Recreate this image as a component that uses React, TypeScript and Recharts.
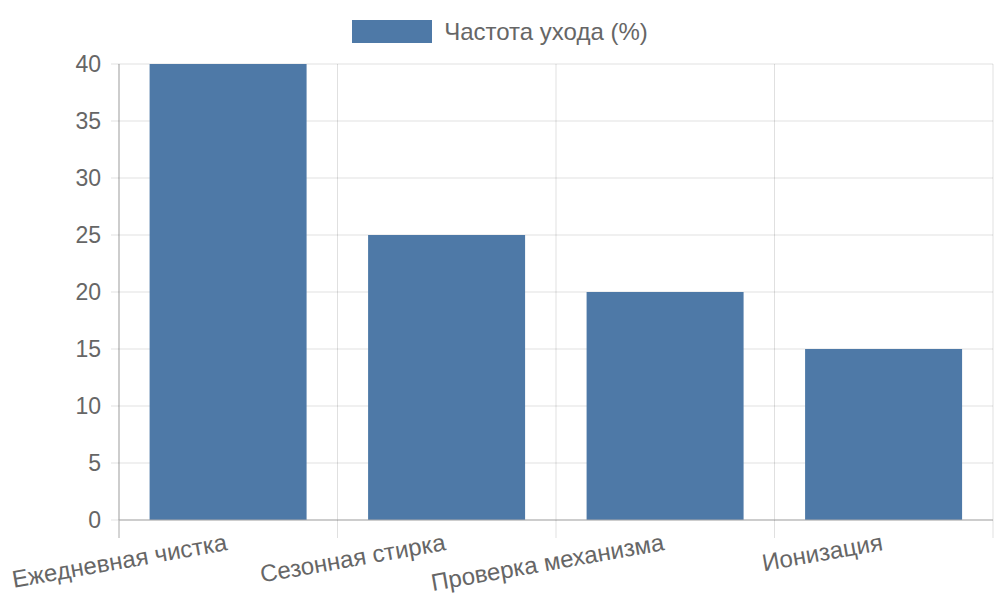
import { BarChart, Bar, XAxis, YAxis, CartesianGrid } from "recharts"

const categories = ["Ежедневная чистка", "Сезонная стирка", "Проверка механизма", "Ионизация"]
const frequency = [40, 25, 20, 15]
const yTicks = [0, 5, 10, 15, 20, 25, 30, 35, 40]
const seriesName = "Частота ухода (%)"

const data = categories.map((name, i) => ({ name, value: frequency[i] }))

const FONT = '"Liberation Sans", Arial, sans-serif'
const TEXT = "#666666"
const BLUE = "#4e79a7"
const GRID = "rgba(0,0,0,0.12)"
const AXIS = "#aaaaaa"

// label rotated -10deg, right end at the category centre; light tick marks on the band edges
function RotatedTick({ x, y, payload, index }: any) {
  const half = payload.offset || 0
  const last = index === categories.length - 1
  return (
    <g>
      <line x1={x - half} x2={x - half} y1={y - 30} y2={y - 12} stroke={index === 0 ? AXIS : GRID} />
      {last && <line x1={x + half} x2={x + half} y1={y - 30} y2={y - 12} stroke={GRID} />}
      <g transform={`translate(${x},${y})`}>
        <text x={0} y={0} transform="rotate(-10)" textAnchor="end" fill={TEXT} fontSize={24} fontFamily={FONT}>
          {payload.value}
        </text>
      </g>
    </g>
  )
}

export default function App() {
  return (
    <div style={{ position: "absolute", left: 0, top: 0, width: 1000, height: 600, background: "#fff", fontFamily: FONT }}>
      <div
        style={{
          position: "absolute",
          top: 20,
          left: 0,
          width: 1000,
          display: "flex",
          justifyContent: "center",
          alignItems: "center",
        }}
      >
        <div style={{ width: 80, height: 23, background: BLUE, marginRight: 12 }} />
        <span style={{ fontSize: 24, color: TEXT, lineHeight: "23px" }}>{seriesName}</span>
      </div>
      <BarChart
        width={1000}
        height={600}
        data={data}
        margin={{ top: 64, right: 7, bottom: 0, left: 0 }}
        barCategoryGap="14%"
      >
        <CartesianGrid
          stroke={GRID}
          verticalCoordinatesGenerator={({ offset }: any) =>
            categories.map((_, i) => offset.left + (i * offset.width) / categories.length).concat(offset.left + offset.width)
          }
        />
        <XAxis
          dataKey="name"
          height={80}
          axisLine={{ stroke: AXIS }}
          tickLine={false}
          tick={<RotatedTick />}
          tickMargin={0}
          tickSize={30}
          interval={0}
        />
        <YAxis
          width={119}
          domain={[0, 40]}
          ticks={yTicks}
          axisLine={{ stroke: AXIS }}
          tickLine={{ stroke: GRID }}
          tickSize={8}
          tickMargin={10}
          tick={{ fill: TEXT, fontSize: 23, fontFamily: FONT }}
        />
        <Bar dataKey="value" fill={BLUE} isAnimationActive={false} />
      </BarChart>
    </div>
  )
}
